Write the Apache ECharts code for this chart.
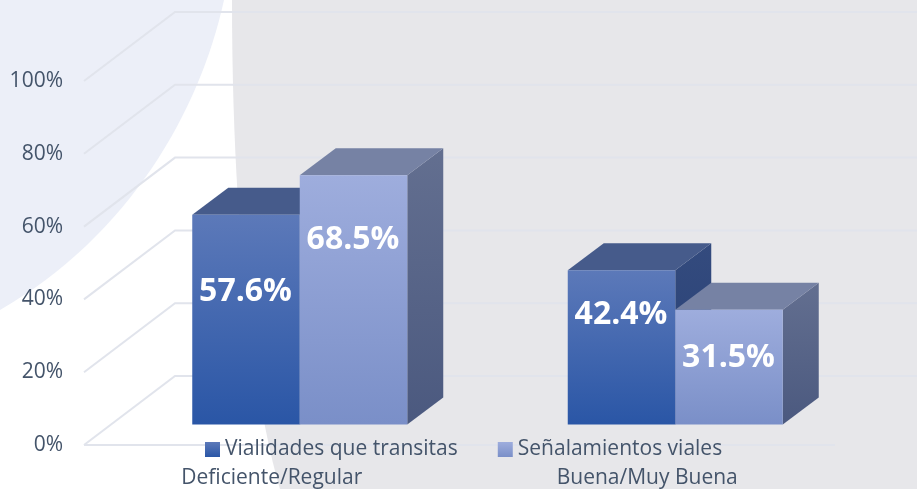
<!DOCTYPE html>
<html>
<head>
<meta charset="utf-8">
<style>html,body{margin:0;padding:0;background:#fff}#c{width:917px;height:489px}</style>
<script src="https://cdn.jsdelivr.net/npm/echarts@6/dist/echarts.min.js"></script>
</head>
<body>
<div id="c"></div>
<script>
const categories = ['Deficiente/Regular', 'Buena/Muy Buena'];
const seriesNames = ['Vialidades que transitas', 'Señalamientos viales'];
const vialidades = [57.6, 42.4];
const senalamientos = [68.5, 31.5];
const yTicks = [0, 20, 40, 60, 80, 100];

const FONT = '"Open Sans", sans-serif';
const TEXT = '#44546a';
const GRIDLINE = '#e1e4ec';
// Labels sit by hand inside the bars in the original: pixels below each bar's top.
const labelDropDark = [77, 45];
const labelDropLight = [65, 48];

const grad = (a, b) => ({ type: 'linear', x: 0, y: 0, x2: 0, y2: 1, colorStops: [{ offset: 0, color: a }, { offset: 1, color: b }] });

const styles = {
  dark: { front: grad('#5c79b9', '#2a56a6'), top: '#465b8b', side: grad('#344b7e', '#263f75') },
  light: { front: grad('#9eaddd', '#7a8fc8'), top: '#7682a4', side: grad('#636f90', '#4b597f') }
};

// Oblique projection of the 3-D plot
const FLOOR_X = 91, FLOOR_Y = -69;      // front edge of the walls to the back wall
const BAR_SHIFT_X = 28, BAR_SHIFT_Y = -20.5; // axis plane to the bars' front plane
const DEPTH_X = 36, DEPTH_Y = -27;     // bar depth
const BAR_W = 107.5;

function barItem(kind, side, drops, labels) {
  return function (params, api) {
    const p = api.coord([api.value(0), api.value(1)]);
    const p0 = api.coord([api.value(0), 0]);
    const cx = p[0] + BAR_SHIFT_X;
    const x0 = side < 0 ? cx - BAR_W : cx;
    const x1 = x0 + BAR_W;
    const yT = p[1] + BAR_SHIFT_Y;
    const yB = p0[1] + BAR_SHIFT_Y;
    const s = styles[kind];
    const poly = (pts, fill) => ({ type: 'polygon', shape: { points: pts }, style: { fill: fill } });
    return {
      type: 'group',
      children: [
        poly([[x1, yT], [x1 + DEPTH_X, yT + DEPTH_Y], [x1 + DEPTH_X, yB + DEPTH_Y], [x1, yB]], s.side),
        poly([[x0, yT], [x0 + DEPTH_X, yT + DEPTH_Y], [x1 + DEPTH_X, yT + DEPTH_Y], [x1, yT]], s.top),
        { type: 'rect', shape: { x: x0, y: yT, width: BAR_W, height: yB - yT }, style: { fill: s.front } },
        {
          type: 'text', z2: 10,
          style: {
            text: labels[params.dataIndex].toFixed(1) + '%', x: (x0 + x1) / 2 - 0.5, y: yT + drops[params.dataIndex],
            fill: '#ffffff', font: 'bold 32px ' + FONT, align: 'center', verticalAlign: 'middle'
          }
        }
      ]
    };
  };
}

function wallLine(params, api) {
  const v = api.value(0);
  const p = api.coord([0, v]);
  const left = api.coord([0, 0])[0] - api.size([1, 0])[0] / 2;
  const children = [{
    type: 'polyline',
    shape: { points: [[left, p[1]], [left + FLOOR_X, p[1] + FLOOR_Y], [917, p[1] + FLOOR_Y]] },
    style: { stroke: GRIDLINE, lineWidth: 2, fill: 'none' }
  }];
  if (v === 0) {
    const right = api.coord([1, 0])[0] + api.size([1, 0])[0] / 2;
    children.push({ type: 'line', shape: { x1: left, y1: p[1], x2: right, y2: p[1] }, style: { stroke: GRIDLINE, lineWidth: 2 } });
  }
  return { type: 'group', children };
}

function backdrop() {
  return {
    type: 'group',
    children: [
      { type: 'path', shape: { pathData: 'M232 0 L917 0 L917 489 L280 489 C268 450 232 300 232 0 Z' }, style: { fill: '#e7e7ea' } },
      { type: 'path', shape: { pathData: 'M0 0 L224 0 C200 110 130 235 0 310 Z' }, style: { fill: '#eceff8' } }
    ]
  };
}

const chart = echarts.init(document.getElementById('c'), null, { renderer: 'canvas' });
chart.setOption({
  animation: false,
  backgroundColor: '#ffffff',
  grid: { left: 84, top: 81, width: 751, height: 364 },
  legend: {
    left: 205, top: 439, itemWidth: 15, itemHeight: 15, itemGap: 40, icon: 'rect',
    data: seriesNames,
    selectedMode: false,
    padding: 0,
    textStyle: { color: TEXT, fontFamily: FONT, fontSize: 21 }
  },
  xAxis: {
    type: 'category', data: categories,
    axisLine: { show: false }, axisTick: { show: false },
    axisLabel: { color: TEXT, fontFamily: FONT, fontSize: 21, margin: 23 }
  },
  yAxis: {
    type: 'value', min: 0, max: 100, interval: 20,
    axisLine: { show: false }, axisTick: { show: false }, splitLine: { show: false },
    axisLabel: { color: TEXT, fontFamily: FONT, fontSize: 21, margin: 21, padding: [4, 0, 0, 0], formatter: '{value}%' }
  },
  series: [
    { type: 'custom', name: 'backdrop', silent: true, z: 0, renderItem: backdrop, data: [[0]], encode: { y: 0 } },
    { type: 'custom', name: 'walls', silent: true, z: 1, renderItem: wallLine, data: yTicks.map(v => [v]), encode: { y: 0 } },
    {
      type: 'custom', name: seriesNames[0], z: 2, renderItem: barItem('dark', -1, labelDropDark, vialidades),
      itemStyle: { color: styles.dark.front }, encode: { x: 0, y: 1 },
      data: vialidades.map((v, i) => [i, v])
    },
    {
      type: 'custom', name: seriesNames[1], z: 3, renderItem: barItem('light', 1, labelDropLight, senalamientos),
      itemStyle: { color: styles.light.front }, encode: { x: 0, y: 1 },
      data: senalamientos.map((v, i) => [i, v])
    }
  ]
});
</script>
</body>
</html>
